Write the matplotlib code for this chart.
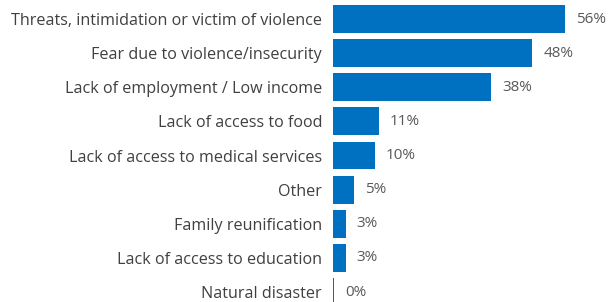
import matplotlib.pyplot as plt

categorias = [
    'Threats, intimidation or victim of violence',
    'Fear due to violence/insecurity',
    'Lack of employment / Low income',
    'Lack of access to food',
    'Lack of access to medical services',
    'Other',
    'Family reunification',
    'Lack of access to education',
    'Natural disaster',
]
valores = [56, 48, 38, 11, 10, 5, 3, 3, 0.3]
etiquetas = ['56%', '48%', '38%', '11%', '10%', '5%', '3%', '3%', '0%']

plt.rcParams['font.family'] = ['Open Sans', 'DejaVu Sans']

fig = plt.figure(figsize=(6.09, 3.02), dpi=100)
ax = fig.add_axes([0.547, 0, 0.453, 1])

pos = list(range(len(categorias)))
ax.barh(pos, valores, height=0.82, color='#0070C0')

for p, v, t in zip(pos, valores, etiquetas):
    ax.annotate(t, (v, p), xytext=(8, 0), textcoords='offset points',
                va='center', ha='left', fontsize=11, color='#595959')

ax.set_yticks(pos)
ax.set_yticklabels(categorias, fontsize=11.6, color='#404040')
ax.tick_params(axis='y', length=0, pad=8)
ax.set_xticks([])
ax.set_xlim(0, 66.5)
ax.set_ylim(8.293, -0.557)
for s in ax.spines.values():
    s.set_visible(False)

plt.savefig('out.png', dpi=100)
